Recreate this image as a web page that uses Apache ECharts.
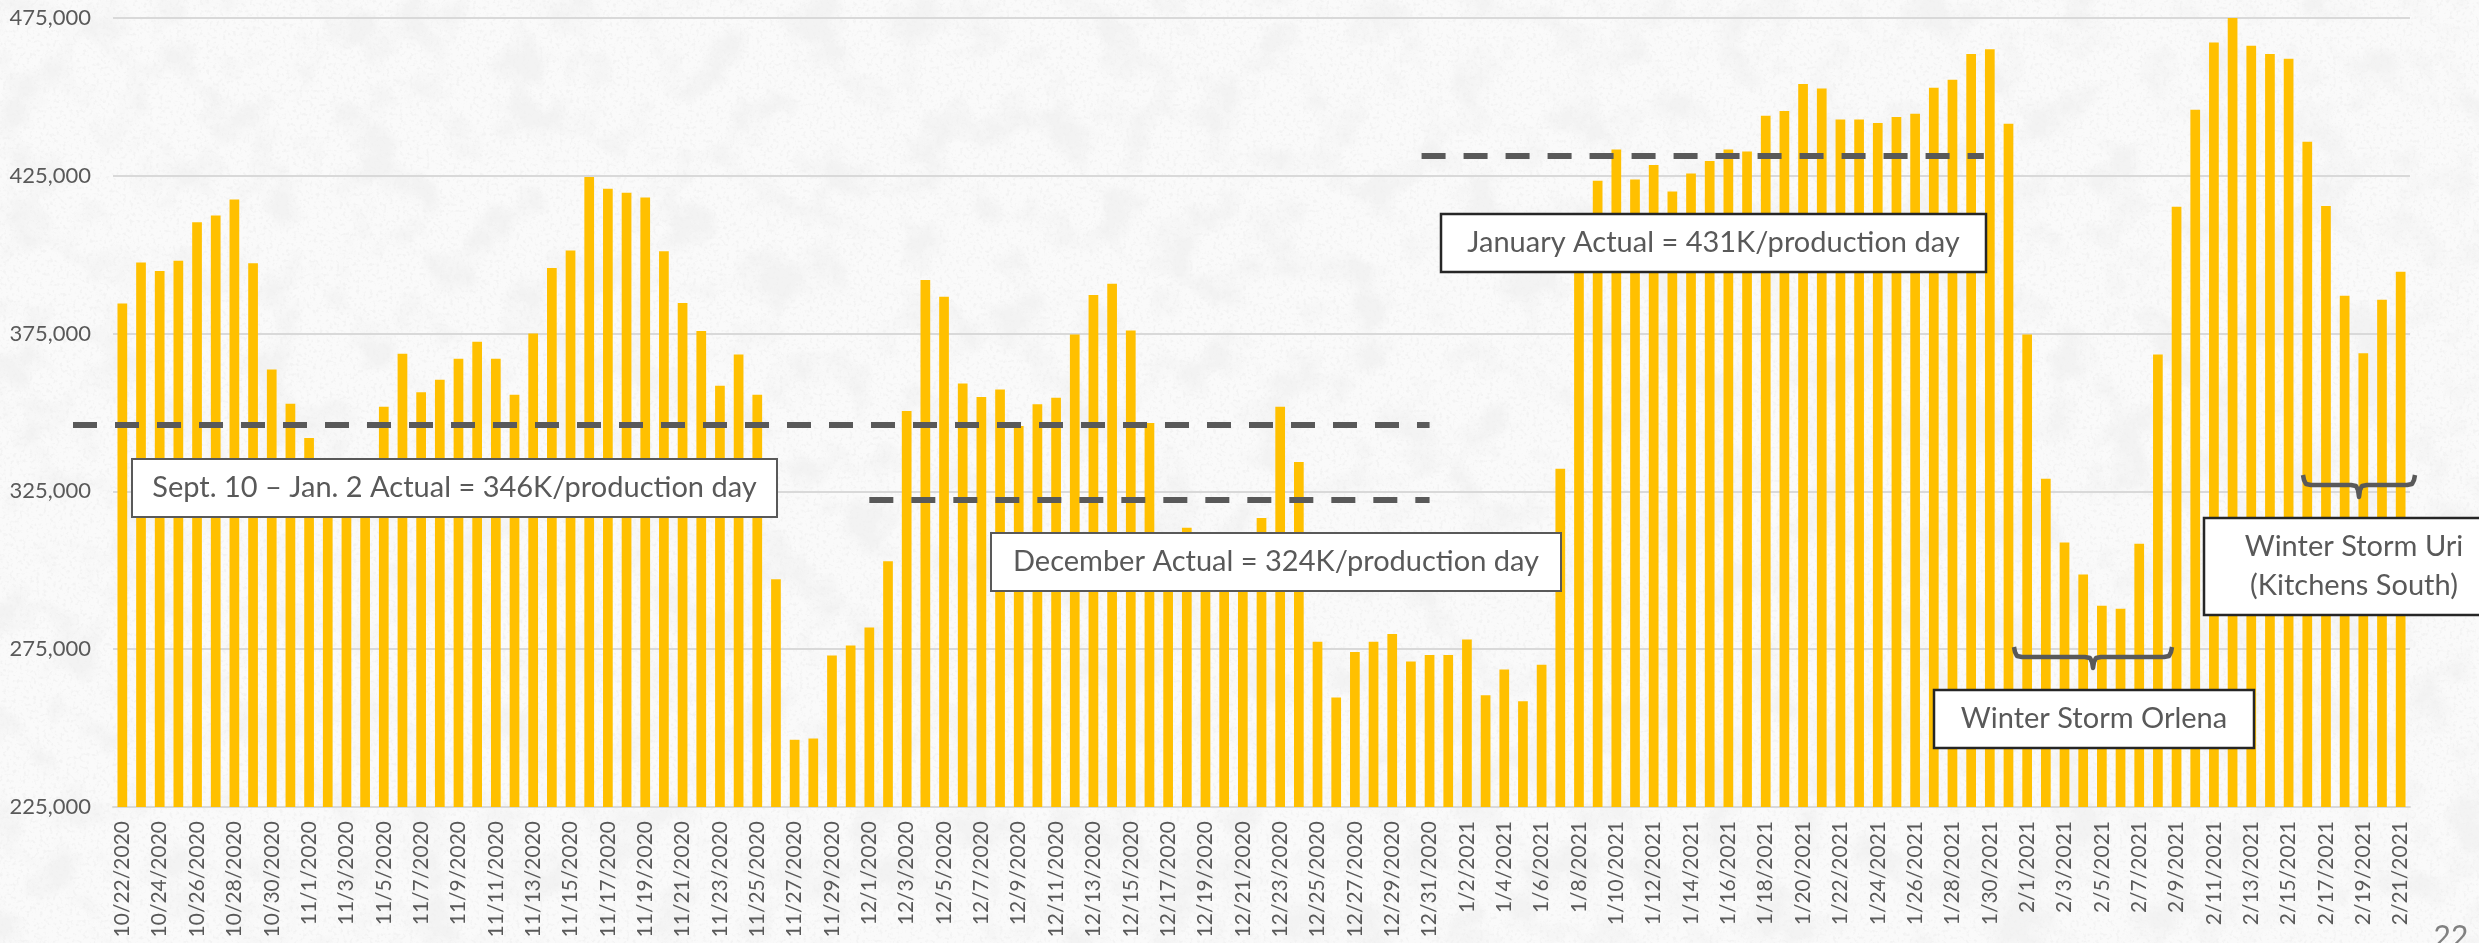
<!DOCTYPE html>
<html>
<head>
<meta charset="utf-8">
<title>Daily production</title>
<script src="https://cdn.jsdelivr.net/npm/echarts@6/dist/echarts.min.js"></script>
<style>
  html, body { margin: 0; padding: 0; }
  body { width: 2479px; height: 943px; overflow: hidden; background-color: #f6f6f6; }
  #chart { width: 2479px; height: 943px; }
</style>
</head>
<body>
<div id="chart"></div>
<script>
// daily production, one value per day (10/22/2020 - 2/21/2021)
const octValues = [384500, 397500, 394800, 398100, 410300, 412400, 417500, 397300, 363600, 352800];
const novValues = [341900, 330000, 327000, 333000, 351800, 368600, 356400, 360400, 367000, 372400,
                   367000, 355600, 375000, 395800, 401300, 424600, 420900, 419600, 418100, 401100,
                   384700, 375800, 358500, 368400, 355600, 297200, 246300, 246700, 273000, 276200];
const decValues = [281900, 302900, 350500, 392000, 386700, 359200, 354900, 357300, 345700, 352600,
                   354700, 374700, 387200, 390800, 376000, 346700, 308000, 313500, 306000, 304000,
                   309000, 316600, 351800, 334300, 277400, 259700, 274100, 277400, 279800, 271100, 273200];
const janValues = [273200, 278100, 260400, 268600, 258500, 270100, 332200, 404000, 423400, 433300,
                   423800, 428400, 420000, 425700, 429700, 433300, 432700, 444000, 445500, 454100,
                   452700, 442800, 442800, 441700, 443600, 444700, 452900, 455400, 463600, 465100, 441500];
const febValues = [374700, 329000, 308800, 298700, 288800, 287800, 308400, 368400, 415200, 445900,
                   467200, 475000, 466200, 463600, 462100, 435800, 415400, 387000, 368800, 385700, 394600];

// month blocks: [month, year, first day, values]
const monthBlocks = [
  [10, 2020, 22, octValues],
  [11, 2020, 1, novValues],
  [12, 2020, 1, decValues],
  [1, 2021, 1, janValues],
  [2, 2021, 1, febValues]
];

// averages shown as dashed lines
const avgSeptJan = 346000;
const avgDecember = 322300;
const avgJanuary = 431300;

const yTicks = [225000, 275000, 325000, 375000, 425000, 475000];

const categories = [];
const values = [];
monthBlocks.forEach(([m, y, first, vals]) => {
  vals.forEach((v, i) => {
    categories.push(m + '/' + (first + i) + '/' + y);
    values.push(v);
  });
});
const idx = name => categories.indexOf(name);

const gray = '#595959';
const boxFont = '29px Lato';

function box(x, y, w, h, text, stroke, lw) {
  return {
    type: 'group',
    z: 100,
    children: [
      { type: 'rect', z: 100, shape: { x: x, y: y, width: w, height: h },
        style: { fill: '#ffffff', stroke: stroke, lineWidth: lw } },
      { type: 'text', z: 101,
        style: { text: text, x: x + w / 2, y: y + h / 2, font: boxFont, fill: gray,
                 align: 'center', verticalAlign: 'middle',
                 textAlign: 'center', textVerticalAlign: 'middle', lineHeight: 39 } }
    ]
  };
}

// horizontal curly brace opening upwards, tip pointing down
function brace(x1, x2, yTop, yLine, yTip) {
  const xm = (x1 + x2) / 2;
  return { type: 'polyline', z: 100,
    shape: { points: [
      [x1, yTop], [x1 + 1, yLine - 5], [x1 + 3, yLine - 1], [x1 + 8, yLine],
      [xm - 8, yLine], [xm - 3, yLine + 1], [xm - 1, yLine + 5], [xm, yTip],
      [xm + 1, yLine + 5], [xm + 3, yLine + 1], [xm + 8, yLine],
      [x2 - 8, yLine], [x2 - 3, yLine - 1], [x2 - 1, yLine - 5], [x2, yTop]
    ] },
    style: { fill: null, stroke: gray, lineWidth: 4.5, lineJoin: 'round' } };
}

const chart = echarts.init(document.getElementById('chart'));
chart.setOption({
  animation: false,
  backgroundColor: 'transparent',
  grid: { left: 113, right: 69, top: 18, bottom: 136 },
  xAxis: {
    type: 'category',
    data: categories,
    boundaryGap: true,
    axisLine: { lineStyle: { color: '#d9d9d9', width: 2 } },
    axisTick: { interval: 1, length: 7, lineStyle: { color: '#d9d9d9', width: 2 } },
    axisLabel: { interval: 1, rotate: 90, margin: 14, color: gray,
                 fontFamily: 'Lato', fontSize: 21 }
  },
  yAxis: {
    type: 'value',
    min: yTicks[0],
    max: yTicks[yTicks.length - 1],
    interval: 50000,
    axisLine: { show: false },
    axisTick: { show: false },
    splitLine: { lineStyle: { color: '#d9d9d9', width: 2 } },
    axisLabel: { margin: 22, color: gray, fontFamily: 'Lato', fontSize: 22,
                 formatter: v => v.toLocaleString('en-US') }
  },
  series: [{
    type: 'bar',
    data: values,
    barWidth: '52%',
    itemStyle: { color: '#FFC000' }
  }]
});

// dashed average lines, placed through the chart's own scales
const px = i => chart.convertToPixel({ xAxisIndex: 0 }, i);
const py = v => chart.convertToPixel({ yAxisIndex: 0 }, v);
function dashed(x1, x2, v) {
  return { type: 'line', z: 90,
    shape: { x1: x1, y1: py(v), x2: x2, y2: py(v) },
    style: { stroke: gray, lineWidth: 6, lineDash: [24, 18] } };
}

chart.setOption({
  graphic: [
    dashed(73, px(idx('12/31/2020')), avgSeptJan),
    dashed(px(idx('12/1/2020')), px(idx('12/31/2020')), avgDecember),
    dashed(px(idx('12/31/2020')) - 8, px(idx('1/30/2021')) - 6, avgJanuary),
    box(132, 459, 645, 58, 'Sept. 10 \u2013 Jan. 2 Actual = 346K/production day', gray, 2),
    box(991, 533, 570, 58, 'December Actual = 324K/production day', gray, 2),
    box(1441, 214, 545, 58, 'January Actual = 431K/production day', '#262626', 2.5),
    box(1934, 690, 320, 58, 'Winter Storm Orlena', '#262626', 2.5),
    box(2204, 518, 300, 97, 'Winter Storm Uri\n(Kitchens South)', '#262626', 2.5),
    brace(2014, 2172, 647, 657, 668),
    brace(2303, 2415, 475, 485, 497),
    { type: 'text', z: 100,
      style: { text: '22', x: 2451, y: 922, font: '30px Lato', fill: '#808080',
               align: 'center', verticalAlign: 'top', textAlign: 'center', textVerticalAlign: 'top' } }
  ]
});

// concrete-like page texture
const tex = "<svg xmlns='http://www.w3.org/2000/svg' width='2479' height='943'>" +
  "<filter id='f' x='0' y='0' width='100%' height='100%'>" +
  "<feTurbulence type='fractalNoise' baseFrequency='0.02' numOctaves='6' seed='7'/>" +
  "<feColorMatrix type='matrix' values='0 0 0 0 0.86 0 0 0 0 0.86 0 0 0 0 0.86 4.2 0 0 0 -2.0'/>" +
  "</filter>" +
  "<filter id='g' x='0' y='0' width='100%' height='100%'>" +
  "<feTurbulence type='fractalNoise' baseFrequency='0.3' numOctaves='2' seed='3'/>" +
  "<feColorMatrix type='matrix' values='0 0 0 0 0.87 0 0 0 0 0.87 0 0 0 0 0.87 5 0 0 0 -2.6'/>" +
  "</filter>" +
  "<rect width='100%' height='100%' fill='#fafafa'/>" +
  "<rect width='100%' height='100%' filter='url(#f)' opacity='0.55'/>" +
  "<rect width='100%' height='100%' filter='url(#g)' opacity='0.6'/>" +
  "</svg>";
document.body.style.backgroundImage = 'url("data:image/svg+xml;utf8,' + encodeURIComponent(tex) + '")';
</script>
</body>
</html>
